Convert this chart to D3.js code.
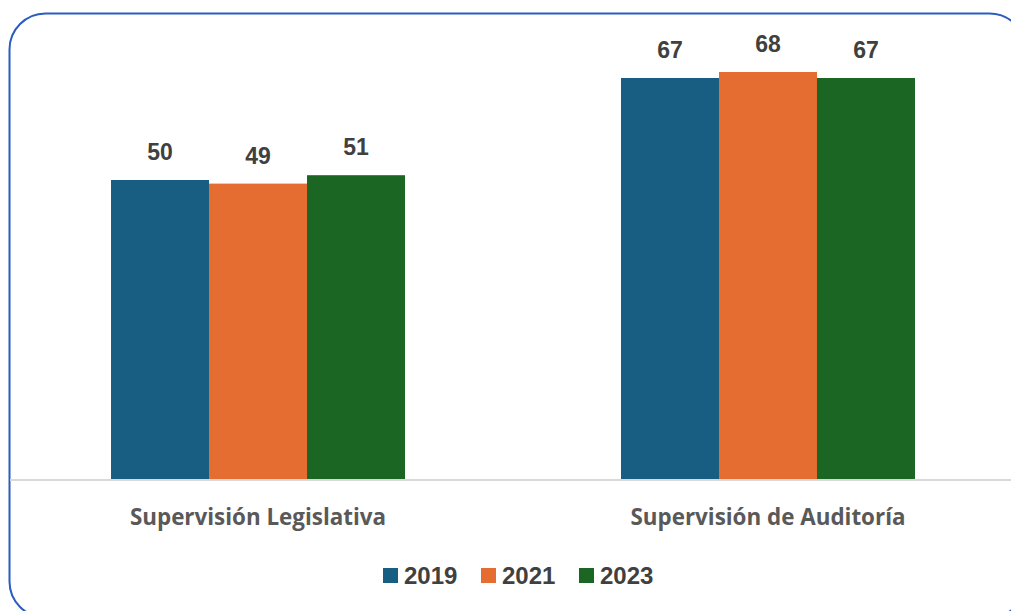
<!DOCTYPE html>
<html>
<head>
<meta charset="utf-8">
<script src="https://cdn.jsdelivr.net/npm/d3@7"></script>
<style>
  body { margin: 0; background: #fff; }
  svg { display: block; }
</style>
</head>
<body>
<script>
// datos del grafico
var categorias = ["Supervisión Legislativa", "Supervisión de Auditoría"];
var anios = ["2019", "2021", "2023"];
var valores2019 = [50, 67];
var valores2021 = [49.4, 68];
var valores2023 = [50.8, 67];
var colores = ["#175e82", "#e56d32", "#1b6623"];

var w = 1011;
var h = 611;
var base = 480; // linea base

var series = [valores2019, valores2021, valores2023];
var fmt = d3.format(".0f");

var svg = d3.select("body").append("svg")
    .attr("width", w)
    .attr("height", h);

// marco redondeado
svg.append("rect")
    .attr("x", 9.5)
    .attr("y", 13.5)
    .attr("width", 1016)
    .attr("height", 604)
    .attr("rx", 36)
    .attr("ry", 36)
    .attr("fill", "#fff")
    .attr("stroke", "#2b5cbf")
    .attr("stroke-width", 2);

var x0 = d3.scaleBand()
    .domain(categorias)
    .range([3, 1023])
    .paddingInner(0.4235)
    .paddingOuter(0.2118);

var x1 = d3.scaleBand()
    .domain(anios)
    .range([0, x0.bandwidth()]);

var y = d3.scaleLinear()
    .domain([0, 80])
    .range([base, 0]);

var grupos = svg.selectAll("g.grupo")
    .data(categorias)
    .enter()
    .append("g")
    .attr("class", "grupo")
    .attr("transform", function(d){ return "translate(" + x0(d) + ",0)"; });

grupos.selectAll("rect")
    .data(function(d, i){
        return anios.map(function(a, j){ return {anio: a, v: series[j][i], c: colores[j]}; });
    })
    .enter()
    .append("rect")
    .attr("x", function(d){ return x1(d.anio); })
    .attr("y", function(d){ return y(d.v); })
    .attr("width", x1.bandwidth())
    .attr("height", function(d){ return base - y(d.v); })
    .attr("fill", function(d){ return d.c; });

grupos.selectAll("text.valor")
    .data(function(d, i){
        return anios.map(function(a, j){ return {anio: a, v: series[j][i]}; });
    })
    .enter()
    .append("text")
    .attr("class", "valor")
    .attr("x", function(d){ return x1(d.anio) + x1.bandwidth() / 2; })
    .attr("y", function(d){ return y(d.v) - 20; })
    .attr("text-anchor", "middle")
    .style("font-family", "'Liberation Sans', Arial, sans-serif")
    .style("font-weight", "bold")
    .style("font-size", "23px")
    .style("fill", "#404040")
    .text(function(d){ return fmt(d.v); });

// eje x
var xAxis = d3.axisBottom(x0).tickSize(0).tickPadding(29);
var gx = svg.append("g")
    .attr("transform", "translate(0," + base + ")")
    .call(xAxis);
gx.select(".domain").remove();
gx.append("line")
    .attr("x1", 10)
    .attr("x2", 1011)
    .attr("y1", 0)
    .attr("y2", 0)
    .attr("stroke", "#d9d9d9")
    .attr("stroke-width", 2);
gx.selectAll("text")
    .style("font-family", "'Open Sans', sans-serif")
    .style("font-weight", "bold")
    .style("font-size", "22.4px")
    .style("fill", "#595959");

// leyenda
var legendX = [383, 481, 579];
var leyenda = svg.selectAll("g.ley")
    .data(anios)
    .enter()
    .append("g")
    .attr("class", "ley")
    .attr("transform", function(d, i){ return "translate(" + legendX[i] + ",568)"; });
leyenda.append("rect")
    .attr("width", 15)
    .attr("height", 15)
    .attr("fill", function(d, i){ return colores[i]; });
leyenda.append("text")
    .attr("x", 21)
    .attr("y", 16)
    .style("font-family", "'Liberation Sans', Arial, sans-serif")
    .style("font-weight", "bold")
    .style("font-size", "24px")
    .style("fill", "#404040")
    .text(function(d){ return d; });
</script>
</body>
</html>
